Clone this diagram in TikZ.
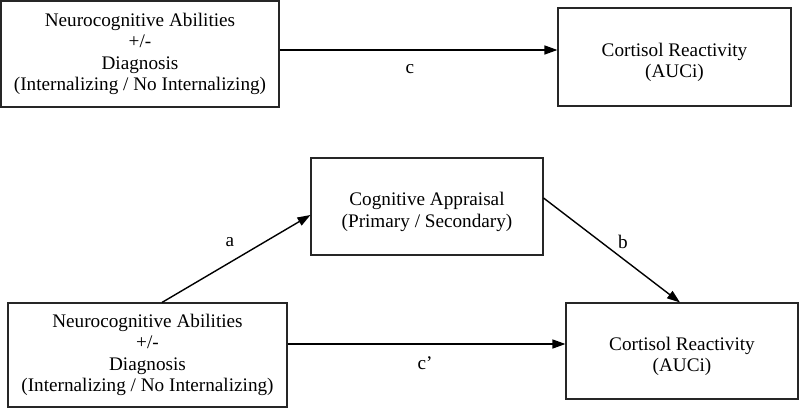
\documentclass[tikz,border=0pt]{standalone}
\usepackage{fontspec}
\setmainfont{Liberation Serif}
\usetikzlibrary{arrows.meta}
\newcommand{\lowerby}{\rule{0pt}{24pt}}
\begin{document}
\begin{tikzpicture}[x=1pt,y=-1pt,
  box/.style={draw=black!85, line width=1.1pt, rectangle, inner sep=0pt, align=center,
    font=\fontsize{19.2}{21.5}\selectfont},
  arr/.style={line width=1.4pt, -{Triangle[length=13pt,width=9pt]}},
  lbl/.style={font=\fontsize{19.2}{21}\selectfont}]
\useasboundingbox (0,0) rectangle (800,409);
\fill[white] (0,0) rectangle (800,409);
% top row
\node[box, minimum width=278pt, minimum height=106pt] (n1) at (140,54)
  {Neurocognitive Abilities\\+/-\\Diagnosis\\(Internalizing / No Internalizing)};
\node[box, minimum width=233pt, minimum height=98pt] (c1) at (674.5,57)
  {\lowerby Cortisol Reactivity\\(AUCi)};
% bottom
\node[box, minimum width=232pt, minimum height=97pt] (ap) at (427,206.5)
  {\lowerby Cognitive Appraisal\\(Primary / Secondary)};
\node[box, minimum width=279pt, minimum height=104pt] (n2) at (147.5,355)
  {Neurocognitive Abilities\\+/-\\Diagnosis\\(Internalizing / No Internalizing)};
\node[box, minimum width=232pt, minimum height=96pt] (c2) at (682,351)
  {\lowerby Cortisol Reactivity\\(AUCi)};
% level coordinates
\coordinate (yc) at (0,50);
\coordinate (ycp) at (0,344);
\coordinate (xa) at (162,0);
\coordinate (ya) at (0,215);
\coordinate (yb) at (0,198);
\coordinate (xb) at (680,0);
\draw[arr] (n1.east |- yc) -- (c1.west |- yc);
\draw[arr] (n2.north -| xa) -- (ap.west |- ya);
\draw[arr] (ap.east |- yb) -- (c2.north -| xb);
\draw[arr] (n2.east |- ycp) -- (c2.west |- ycp);
\node[lbl] (lc) at (410,69) {c};
\node[lbl] (lcp) at (425,363) {c’};
\node[lbl] (la) at (230,242) {a};
\node[lbl] (lb) at (623,242) {b};
\end{tikzpicture}
\end{document}
